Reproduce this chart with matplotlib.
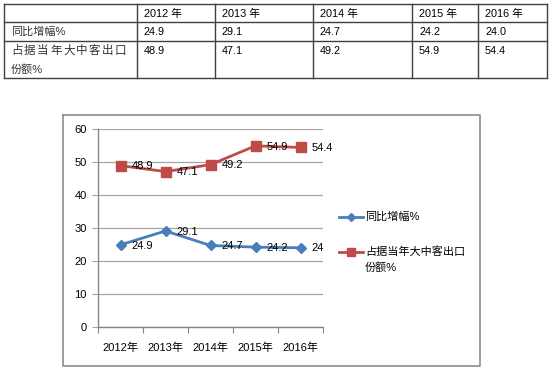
import matplotlib
matplotlib.use("Agg")
import matplotlib.pyplot as plt
import numpy as np

plt.rcParams["font.family"] = ["Liberation Sans", "Noto Sans CJK SC", "DejaVu Sans"]

# 数据
years = ["2012", "2013", "2014", "2015", "2016"]
growth = [24.9, 29.1, 24.7, 24.2, 24.0]
share = [48.9, 47.1, 49.2, 54.9, 54.4]
series_names = ["同比增幅%", "占据当年大中客出口\n份额%"]
blue = "#4A7EBB"
red = "#BE4B48"

fig = plt.figure(figsize=(5.5, 3.69), dpi=100)

# 背景层（像素坐标），画表格和图表边框
bg = fig.add_axes([0, 0, 1, 1])
bg.set_xlim(0, 550)
bg.set_ylim(369, 0)
bg.axis("off")

# %% 表格
col_x = [4, 137, 215, 313, 412, 478, 547]
row_y = [4, 22, 41, 78]
for y in row_y:
    bg.plot([col_x[0], col_x[-1]], [y, y], color="#404040", lw=1)
for x in col_x:
    bg.plot([x, x], [row_y[0], row_y[-1]], color="#404040", lw=1)

tfs = 7.8
for i, yr in enumerate(years):
    cx = col_x[i + 1] + 7
    bg.text(cx, 13.5, f"{yr} 年", fontsize=tfs, va="center", ha="left")
    bg.text(cx, 32, f"{growth[i]:.1f}", fontsize=tfs, va="center", ha="left")
    bg.text(cx, 51, f"{share[i]:.1f}", fontsize=tfs, va="center", ha="left")

bg.text(11, 32, series_names[0], fontsize=8, va="center", ha="left", color="#333333")
name2 = series_names[1].split("\n")
# 表格里这一行是两端对齐的，字距较大
for k, ch in enumerate(name2[0]):
    bg.text(11 + 13 * k, 51, ch, fontsize=8.3, va="center", ha="left", color="#333333")
bg.text(11, 70, name2[1], fontsize=8, va="center", ha="left", color="#333333")

# %% 图表外框
bg.plot([63, 480, 480, 63, 63], [115, 115, 366, 366, 115], color="#8C8C8C", lw=1.2)

# %% 折线图
ax = fig.add_axes([98 / 550, 1 - 327 / 369, 225 / 550, 198 / 369])
x = np.arange(len(years)) + 0.5
ax.plot(x, growth, color=blue, lw=2, marker="D", ms=5, zorder=3)
ax.plot(x, share, color=red, lw=2, marker="s", ms=7, zorder=3)

for xi, v in zip(x, growth):
    ax.annotate(f"{v:g}", (xi, v), xytext=(8, -0.5), textcoords="offset points",
                va="center", ha="left", fontsize=8)
for xi, v in zip(x, share):
    ax.annotate(f"{v:g}", (xi, v), xytext=(8, -0.5), textcoords="offset points",
                va="center", ha="left", fontsize=8)

ax.set_xlim(0, len(years))
ax.set_ylim(0, 60)
ax.set_yticks(range(0, 61, 10))
ax.grid(axis="y", color="#A6A6A6", lw=0.9)
ax.set_axisbelow(True)

ax.set_xticks(range(len(years) + 1))
ax.set_xticklabels([])
ax.set_xticks(x, minor=True)
ax.set_xticklabels([f"{yr}年" for yr in years], minor=True, fontsize=8)
ax.tick_params(axis="x", which="major", length=4, color="#868686", direction="out")
ax.tick_params(axis="x", which="minor", length=0, pad=11)
ax.tick_params(axis="y", length=4, color="#A6A6A6", labelsize=8, pad=4)

for s in ["top", "right"]:
    ax.spines[s].set_visible(False)
for s in ["left", "bottom"]:
    ax.spines[s].set_color("#868686")
    ax.spines[s].set_linewidth(1)

# %% 图例
bg.plot([339, 363], [217, 217], color=blue, lw=2)
bg.plot([351], [217], color=blue, marker="D", ms=4)
bg.text(365, 217, series_names[0], fontsize=8, va="center", ha="left")
bg.plot([339, 363], [252, 252], color=red, lw=2)
bg.plot([351], [252], color=red, marker="s", ms=6)
bg.text(365, 252, name2[0], fontsize=8, va="center", ha="left")
bg.text(365, 267, name2[1], fontsize=8, va="center", ha="left")

fig.savefig("out.png", dpi=100)
